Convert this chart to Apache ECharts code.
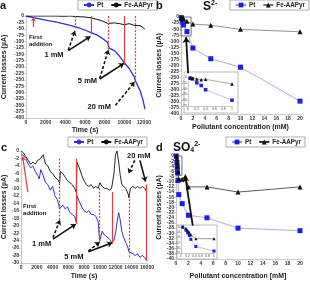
<!DOCTYPE html>
<html>
<head>
<meta charset="utf-8">
<script src="https://cdn.jsdelivr.net/npm/echarts@6/dist/echarts.min.js"></script>
<style>
html, body { margin: 0; padding: 0; background: #fff; }
#chart { width: 310px; height: 284px; }
</style>
</head>
<body>
<div id="chart"></div>
<script>
// ---- panel a : S2- , current losses vs time
var aTime = [0, 750, 1500, 2250, 3000, 3750, 4500, 5000, 5500, 6000, 6600, 7200, 7800, 8300, 8450, 9000, 9500, 10000, 10500, 11000, 11150, 11600, 11900, 12100];
var aPt = [0, -6, -12, -18, -23, -30, -37, -43, -48, -55, -65, -74, -88, -104, -126, -136, -157, -184, -206, -238, -256, -292, -330, -365];
var aFe = [0, 0, 0, 0, 0, -1, 0, -2, -3, -4, -7, -13, -20, -29, -25, -27, -30, -34, -30, -37, -40, -38, -45, -53];
// additions: [time, top, bottom]
var aDashed = [[5000, 0, -50], [8400, 0, -134], [11100, 0, -252]];
var aSolid = [[6600, 0, -70], [10000, 0, -192], [12100, 0, -365]];
var aFirst = [750, -43, -6];
var aArrowDashed = [[4300, -134, 4980, -58], [7500, -245, 8380, -132], [9100, -350, 11050, -258]];
var aArrowSolid = [[4300, -136, 6550, -80], [7500, -247, 9950, -186]];
var aArrowBoth = [[9100, -358, 12050, -358]];
var aNotes = [[2850, -151, '1 mM'], [6250, -255, '5 mM'], [7450, -358, '20 mM']];
var aFirstNote = [300, -99, 'First\naddition'];

// ---- panel b : S2- , current losses vs concentration
var bConc = [0.05, 0.1, 0.2, 0.3, 0.4, 1, 2, 5, 10, 20];
var bPt = [-3, -5, -15, -22, -33, -60, -128, -172, -207, -347];
var bFe = [-2, -3, -5, -7, -6, -18, -29, -34, -51, -61];

// ---- panel c : SO4 2- , current losses vs time
var cTime = [0, 300, 600, 900, 1200, 1500, 1800, 2100, 2300, 2500, 2800, 3100, 3400, 3700, 4000, 4300, 4600, 4900, 5000, 5300, 5600, 5900, 6200, 6500, 6800, 7000, 7100, 7400, 7700, 8000, 8300, 8600, 8900, 9200, 9500, 9800, 9900, 10000, 10300, 10600, 10900, 11200, 11500, 11600, 11800, 12000, 12200, 12400, 12600, 12800, 13000, 13300, 13600, 13700, 13900, 14200, 14500, 14800, 15100, 15400, 15700, 16000];
var cPt = [-1, -1.2, -2, -3.5, -4.5, -4, -5.5, -6.5, -7.5, -5, -6.5, -8.5, -9, -10.5, -9.5, -12, -13, -15.5, -15, -14.5, -15.5, -15, -16.5, -17, -17.5, -19, -12, -13.5, -15, -16, -16.5, -16, -17, -17, -17.5, -19, -22, -24, -21.5, -22.5, -23, -23.5, -24.5, -25, -24, -22, -19, -16.5, -18.5, -21.5, -23, -24.5, -26, -27, -26.5, -27.5, -28, -27.5, -28.5, -28, -28.5, -29.5];
var cFe = [0, -0.5, -1.5, -2.5, -3.5, -3, -3.5, -2.5, -3, -2, -1, -3.5, -4, -5.5, -6, -7, -7.5, -8.5, -5.5, -6, -7, -8, -8.5, -9, -10, -11, -3, -4.5, -6.5, -8, -9, -9.5, -9, -10, -9.5, -10, -10.5, -8.5, -9.5, -10, -10, -10.5, -10, -9.5, -6, -1, 0, -3, -6.5, -9, -9.5, -10, -11.5, -12.5, -10, -9.5, -10, -9.5, -10, -9.5, -10, -11];
var cDashed = [[4900, -2, -19], [9900, -10, -24.5], [13700, -12, -28.5]];
var cSolid = [[7000, -2, -19.5], [11600, -11, -24.8], [15900, -9, -29.5]];
var cFirst = [850, -11, 200, -1.5];
var cArrowDashed = [[4050, -23.2, 4930, -18.5], [8550, -26.8, 10000, -24.4], [14450, -2.5, 13650, -6]];
var cArrowSolid = [[4050, -23.6, 6950, -19.6], [8550, -27, 11580, -24.6], [15100, -2.5, 15820, -8.2]];
var cNotes = [[2600, -24.8, '1 mM'], [6700, -28.5, '5 mM'], [14950, -1.2, '20 mM']];
var cFirstNote = [250, -15.8, 'First\naddition'];

// ---- panel d : SO4 2- , current losses vs concentration
var dPtConc = [0.05, 0.15, 0.2, 0.25, 0.3, 0.45, 1, 2, 5, 10, 20];
var dPt = [0, -2.5, -4.5, -6.5, -9.5, -15, -18.5, -23, -24, -28, -29];
var dFeConc = [0.05, 0.15, 0.2, 0.25, 0.3, 0.45, 1, 1.5, 2, 5, 10, 20];
var dFe = [0, -1, -2.5, -4, -6, -9, -9, -8, -12, -12, -14, -12];

var FONT = '"Liberation Sans", Arial, sans-serif';
var BLUE = '#3131d8';
var SQ = '#1c1cf2';
var PTLINE = '#9696e6';
var RED = '#e63a3c';

function pairs(xs, ys) {
  return xs.map(function (x, i) { return [x, ys[i]]; });
}

function axis(grid, min, max, interval, name, gap, small) {
  return {
    type: 'value', gridIndex: grid, min: min, max: max, interval: interval,
    name: name, nameLocation: 'middle', nameGap: gap,
    nameTextStyle: { fontFamily: FONT, fontSize: 7, fontWeight: 'bold', color: '#222' },
    axisLine: { show: true, onZero: false, lineStyle: { color: '#bbb', width: 0.8 } },
    axisTick: { show: true, length: small ? 1 : 2, lineStyle: { color: '#bbb', width: 0.6 } },
    axisLabel: {
      fontFamily: FONT, fontSize: small ? 3.5 : 5, fontWeight: small ? 'normal' : 'bold',
      color: small ? '#555' : '#333', margin: small ? 1 : 2,
      formatter: function (v) { return String(v); }
    },
    splitLine: { show: false },
    z: small ? 5 : 0
  };
}

function redLines(dashed, solid, extra) {
  var d = [];
  dashed.forEach(function (r) {
    d.push([{ coord: [r[0], r[1]], lineStyle: { type: [2, 1.5] } }, { coord: [r[0], r[2]] }]);
  });
  solid.forEach(function (r) {
    d.push([{ coord: [r[0], r[1]] }, { coord: [r[0], r[2]] }]);
  });
  return {
    silent: true, symbol: 'none', label: { show: false },
    lineStyle: { color: RED, width: 1.2, type: 'solid' },
    data: d.concat(extra)
  };
}

function arrows(dashed, solid, both) {
  var d = [];
  dashed.forEach(function (r) {
    d.push([{ coord: [r[0], r[1]], lineStyle: { type: [3, 2] } }, { coord: [r[2], r[3]] }]);
  });
  solid.forEach(function (r) {
    d.push([{ coord: [r[0], r[1]] }, { coord: [r[2], r[3]] }]);
  });
  (both || []).forEach(function (r) {
    d.push([{ coord: [r[0], r[1]], symbol: 'arrow' }, { coord: [r[2], r[3]] }]);
  });
  return {
    silent: true, symbol: ['none', 'arrow'], symbolSize: 5, label: { show: false },
    lineStyle: { color: '#111', width: 1.6, type: 'solid' },
    data: d
  };
}

function notes(list, first) {
  var d = list.map(function (n) {
    return { name: n[2], coord: [n[0], n[1]] };
  });
  d.push({
    name: first[2], coord: [first[0], first[1]],
    label: { align: 'left', fontSize: 6, lineHeight: 7 }
  });
  return {
    silent: true, symbol: 'circle', symbolSize: 1,
    itemStyle: { color: 'rgba(0,0,0,0)' },
    label: {
      show: true, position: 'inside', fontFamily: FONT, fontSize: 7.5,
      fontWeight: 'bold', color: '#111',
      formatter: function (p) { return p.name; }
    },
    data: d
  };
}

function legendAt(left, top, names) {
  return {
    left: left, top: top, width: 200, data: names, selectedMode: false,
    padding: [2, 4, 2, 5], itemGap: 7, itemWidth: 10, itemHeight: 6,
    borderColor: '#999', borderWidth: 0.8,
    textStyle: { fontFamily: FONT, fontSize: 6.3, fontWeight: 'bold', color: '#222', padding: [0, 0, 0, -2] },
    formatter: function (n) { return n.split('|')[0]; }
  };
}

function letter(t, left, top) {
  return { text: t, left: left, top: top, padding: 0,
    textStyle: { fontFamily: FONT, fontSize: 11, fontWeight: 'bold', color: '#111' } };
}

var ionRich = {
  m: { fontFamily: FONT, fontSize: 12, fontWeight: 'bold', color: '#111', lineHeight: 13 },
  s: { fontFamily: FONT, fontSize: 7, fontWeight: 'bold', color: '#111', lineHeight: 8, verticalAlign: 'top' },
  u: { fontFamily: FONT, fontSize: 7, fontWeight: 'bold', color: '#111', lineHeight: 8, verticalAlign: 'bottom' }
};

var chart = echarts.init(document.getElementById('chart'));

var option = {
  animation: false,
  backgroundColor: '#fff',
  textStyle: { fontFamily: FONT },
  title: [
    letter('a', 0, 0),
    letter('b', 156, 0),
    letter('c', 1, 142),
    letter('d', 156, 142),
    { text: '{m|S}{s|2-}', left: 203, top: 0, padding: 0, textStyle: { rich: ionRich } },
    { text: '{m|SO}{u|4}{s|2-}', left: 173, top: 141, padding: 0, textStyle: { rich: ionRich } }
  ],
  legend: [
    legendAt(78, 0, ['Pt|a', 'Fe-AAPyr|a']),
    legendAt(230, 0, ['Pt|b', 'Fe-AAPyr|b']),
    legendAt(68, 137, ['Pt|c', 'Fe-AAPyr|c']),
    legendAt(226, 137, ['Pt|d', 'Fe-AAPyr|d'])
  ],
  grid: [
    { left: 26, top: 16, width: 118, height: 102 },
    { left: 181, top: 17, width: 119, height: 97 },
    { left: 21, top: 151, width: 126, height: 112 },
    { left: 176, top: 156, width: 124, height: 103 },
    { left: 188, top: 77, width: 44, height: 29 },
    { left: 181, top: 227, width: 33, height: 26 }
  ],
  xAxis: [
    axis(0, 0, 12000, 2000, 'Time (s)', 9),
    axis(1, 0, 20, 2, 'Pollutant concentration (mM)', 10),
    axis(2, 0, 16000, 2000, 'Time (s)', 10),
    axis(3, 0, 20, 2, 'Pollutant concentration [mM]', 14),
    axis(4, 0, 1, 0.2, '', 0, true),
    axis(5, 0, 1, 0.2, '', 0, true)
  ],
  yAxis: [
    axis(0, -400, 0, 25, 'Current losses (\u00b5A)', 18),
    axis(1, -400, 0, 25, 'Current losses (\u00b5A)', 18),
    axis(2, -30, 0, 2, 'Current losses (\u00b5A)', 13),
    axis(3, -40, 0, 2, 'Current losses (\u00b5A)', 13),
    axis(4, -75, 0, 15, '', 0, true),
    axis(5, -20, 0, 4, '', 0, true)
  ],
  graphic: [
    { type: 'rect', z: 3, shape: { x: 184, y: 72, width: 54, height: 41 },
      style: { fill: '#fff', stroke: '#aaa', lineWidth: 0.8 } },
    { type: 'rect', z: 3, shape: { x: 177, y: 225, width: 40, height: 34 },
      style: { fill: '#fff', stroke: '#aaa', lineWidth: 0.8 } }
  ],
  series: [
    // a
    {
      name: 'Pt|a', type: 'line', xAxisIndex: 0, yAxisIndex: 0, symbol: 'none',
      data: pairs(aTime, aPt), lineStyle: { color: BLUE, width: 1.3 }, itemStyle: { color: BLUE },
      markLine: redLines(aDashed, aSolid, [[{ coord: [aFirst[0], aFirst[1]] }, { coord: [aFirst[0], aFirst[2]], symbol: 'arrow', symbolSize: 4 }]])
    },
    {
      name: 'Fe-AAPyr|a', type: 'line', xAxisIndex: 0, yAxisIndex: 0, symbol: 'none',
      data: pairs(aTime, aFe), lineStyle: { color: '#111', width: 1 }, itemStyle: { color: '#111' },
      markLine: arrows(aArrowDashed, aArrowSolid, aArrowBoth),
      markPoint: notes(aNotes, aFirstNote)
    },
    // b
    {
      name: 'Pt|b', type: 'line', xAxisIndex: 1, yAxisIndex: 1, symbol: 'rect', symbolSize: 5,
      data: pairs(bConc, bPt), lineStyle: { color: PTLINE, width: 0.8 }, itemStyle: { color: SQ },
      markArea: {
        silent: true,
        itemStyle: { color: 'rgba(0,0,0,0)', borderColor: '#555', borderWidth: 0.8 },
        data: [[{ coord: [0, 0] }, { coord: [1.7, -78] }]]
      },
      markLine: {
        silent: true, symbol: ['none', 'arrow'], symbolSize: 6, label: { show: false },
        lineStyle: { color: '#111', width: 1.8, type: 'solid' },
        data: [[{ coord: [1.2, -232] }, { coord: [0.85, -82] }]]
      }
    },
    {
      name: 'Fe-AAPyr|b', type: 'line', xAxisIndex: 1, yAxisIndex: 1, symbol: 'triangle', symbolSize: 5,
      data: pairs(bConc, bFe), lineStyle: { color: '#777', width: 0.8 }, itemStyle: { color: '#111' }
    },
    {
      name: 'Pt inset b', type: 'line', xAxisIndex: 4, yAxisIndex: 4, symbol: 'rect', symbolSize: 3.5, z: 6,
      data: pairs(bConc, bPt), lineStyle: { color: PTLINE, width: 0.6 }, itemStyle: { color: SQ }
    },
    {
      name: 'Fe inset b', type: 'line', xAxisIndex: 4, yAxisIndex: 4, symbol: 'triangle', symbolSize: 3.5, z: 6,
      data: pairs(bConc, bFe), lineStyle: { color: '#777', width: 0.6 }, itemStyle: { color: '#111' }
    },
    // c
    {
      name: 'Pt|c', type: 'line', xAxisIndex: 2, yAxisIndex: 2, symbol: 'none',
      data: pairs(cTime, cPt), lineStyle: { color: BLUE, width: 1 }, itemStyle: { color: BLUE },
      markLine: redLines(cDashed, cSolid, [[{ coord: [cFirst[0], cFirst[1]] }, { coord: [cFirst[2], cFirst[3]], symbol: 'arrow', symbolSize: 4 }]])
    },
    {
      name: 'Fe-AAPyr|c', type: 'line', xAxisIndex: 2, yAxisIndex: 2, symbol: 'none',
      data: pairs(cTime, cFe), lineStyle: { color: '#111', width: 0.9 }, itemStyle: { color: '#111' },
      markLine: arrows(cArrowDashed, cArrowSolid),
      markPoint: notes(cNotes, cFirstNote)
    },
    // d
    {
      name: 'Pt|d', type: 'line', xAxisIndex: 3, yAxisIndex: 3, symbol: 'rect', symbolSize: 5,
      data: pairs(dPtConc, dPt), lineStyle: { color: PTLINE, width: 0.8 }, itemStyle: { color: SQ },
      markArea: {
        silent: true,
        itemStyle: { color: 'rgba(0,0,0,0)', borderColor: '#555', borderWidth: 0.8 },
        data: [[{ coord: [0, 0] }, { coord: [0.95, -7.5] }]]
      },
      markLine: {
        silent: true, symbol: ['none', 'arrow'], symbolSize: 5, label: { show: false },
        lineStyle: { color: '#111', width: 1.8, type: 'solid' },
        data: [[{ coord: [2.7, -27] }, { coord: [1.5, -8] }]]
      }
    },
    {
      name: 'Fe-AAPyr|d', type: 'line', xAxisIndex: 3, yAxisIndex: 3, symbol: 'triangle', symbolSize: 5,
      data: pairs(dFeConc, dFe), lineStyle: { color: '#333', width: 0.8 }, itemStyle: { color: '#111' }
    },
    {
      name: 'Pt inset d', type: 'line', xAxisIndex: 5, yAxisIndex: 5, symbol: 'rect', symbolSize: 3, z: 6,
      data: pairs(dPtConc, dPt), lineStyle: { color: PTLINE, width: 0.6 }, itemStyle: { color: SQ }
    },
    {
      name: 'Fe inset d', type: 'line', xAxisIndex: 5, yAxisIndex: 5, symbol: 'triangle', symbolSize: 3, z: 6,
      data: pairs(dFeConc, dFe), lineStyle: { color: '#555', width: 0.6 }, itemStyle: { color: '#111' }
    }
  ]
};

chart.setOption(option);
</script>
</body>
</html>
